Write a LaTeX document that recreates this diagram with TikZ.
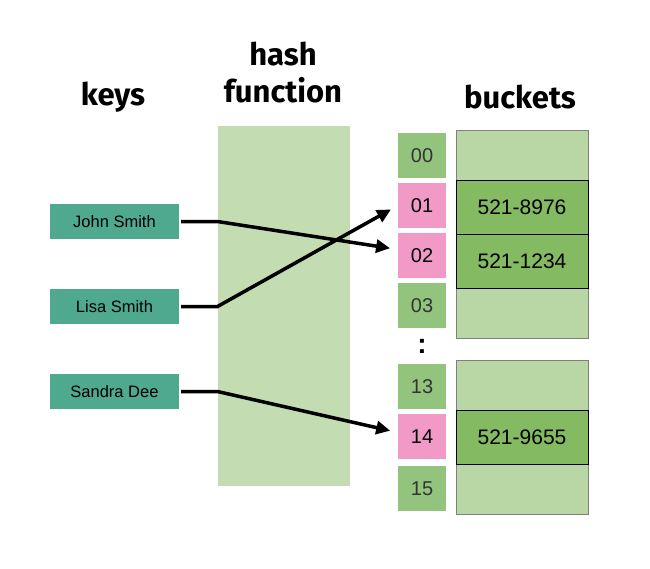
\documentclass[tikz,border=0pt]{standalone}
\usepackage{fontspec}
\setmainfont{Liberation Sans}
\newfontfamily\titlefont{Fira Sans}
\usetikzlibrary{positioning,arrows.meta}

\definecolor{keyteal}{HTML}{4EA98F}
\definecolor{hashgreen}{HTML}{C3DCB1}
\definecolor{idxgreen}{HTML}{93C47D}
\definecolor{idxpink}{HTML}{F19AC8}
\definecolor{bucketlight}{HTML}{B9D7A4}
\definecolor{bucketdark}{HTML}{84BA61}

\begin{document}
\begin{tikzpicture}[
    x=1pt, y=-1pt,
    node distance=50pt,
    every node/.style={inner sep=0pt, outer sep=0pt},
    title/.style={font=\titlefont\bfseries\fontsize{31}{37}\selectfont, align=center},
    keybox/.style={fill=keyteal, minimum width=129pt, minimum height=35pt, font=\fontsize{16.5}{19}\selectfont},
    idx/.style={fill=idxgreen, minimum width=48pt, minimum height=45pt, text=black!80, font=\fontsize{20}{24}\selectfont},
    hit/.style={fill=idxpink, text=black},
    slot/.style={draw=gray, fill=bucketlight, minimum width=132pt, minimum height=50pt},
    full/.style={draw=black, fill=bucketdark, minimum height=54pt, font=\fontsize{21}{25}\selectfont},
    arr/.style={-{Triangle[length=14pt,width=13pt]}, line width=3.5pt, shorten >=8pt}
  ]
    \useasboundingbox (0,0) rectangle (650,568);

    % titles
    \node[title] (keystitle) at (113,97) {keys};
    \node[title] (hashtitle) at (283,73) {hash\\function};
    \node[title] (buckettitle) at (520,97) {buckets};

    % keys and hash function
    \node[keybox] (john) at (114.5,221.5) {John Smith};
    \node[keybox, below=of john] (lisa) {Lisa Smith};
    \node[keybox, below=of lisa] (sandra) {Sandra Dee};

    \node[fill=hashgreen, minimum width=132pt, minimum height=360pt] (hash) at (283.5,306) {};

    % index column
    \node[idx] (ix00) at (422,155.5) {00};
    \node[idx, hit, below=5pt of ix00] (ix01) {01};
    \node[idx, hit, below=5pt of ix01] (ix02) {02};
    \node[idx, below=5pt of ix02] (ix03) {03};
    \node[font=\bfseries\fontsize{28}{30}\selectfont] (dots) at (422,346) {:};
    \node[idx] (ix13) at (422,386.5) {13};
    \node[idx, hit, below=5pt of ix13] (ix14) {14};
    \node[idx, below=7pt of ix14] (ix15) {15};

    % buckets
    \node[slot] (b00) at (522,155) {};
    \node[slot] (b03) at (522,313) {};
    \node[slot, full, below=0pt of b00] (b01) {521-8976};
    \node[slot, full, below=0pt of b01] (b02) {521-1234};
    \node[slot] (b13) at (522,385) {};
    \node[slot] (b15) at (522,489) {};
    \node[slot, full, below=0pt of b13] (b14) {521-9655};

    % hashing
    \draw[arr] ([xshift=2pt]john.east) -- (john.east -| hash.west) -- ([yshift=6pt]ix02.west);
    \draw[arr] ([xshift=2pt]lisa.east) -- (lisa.east -| hash.west) -- (ix01.west);
    \draw[arr] ([xshift=2pt]sandra.east) -- (sandra.east -| hash.west) -- ([yshift=4pt]ix14.west);
  \end{tikzpicture}
\end{document}
